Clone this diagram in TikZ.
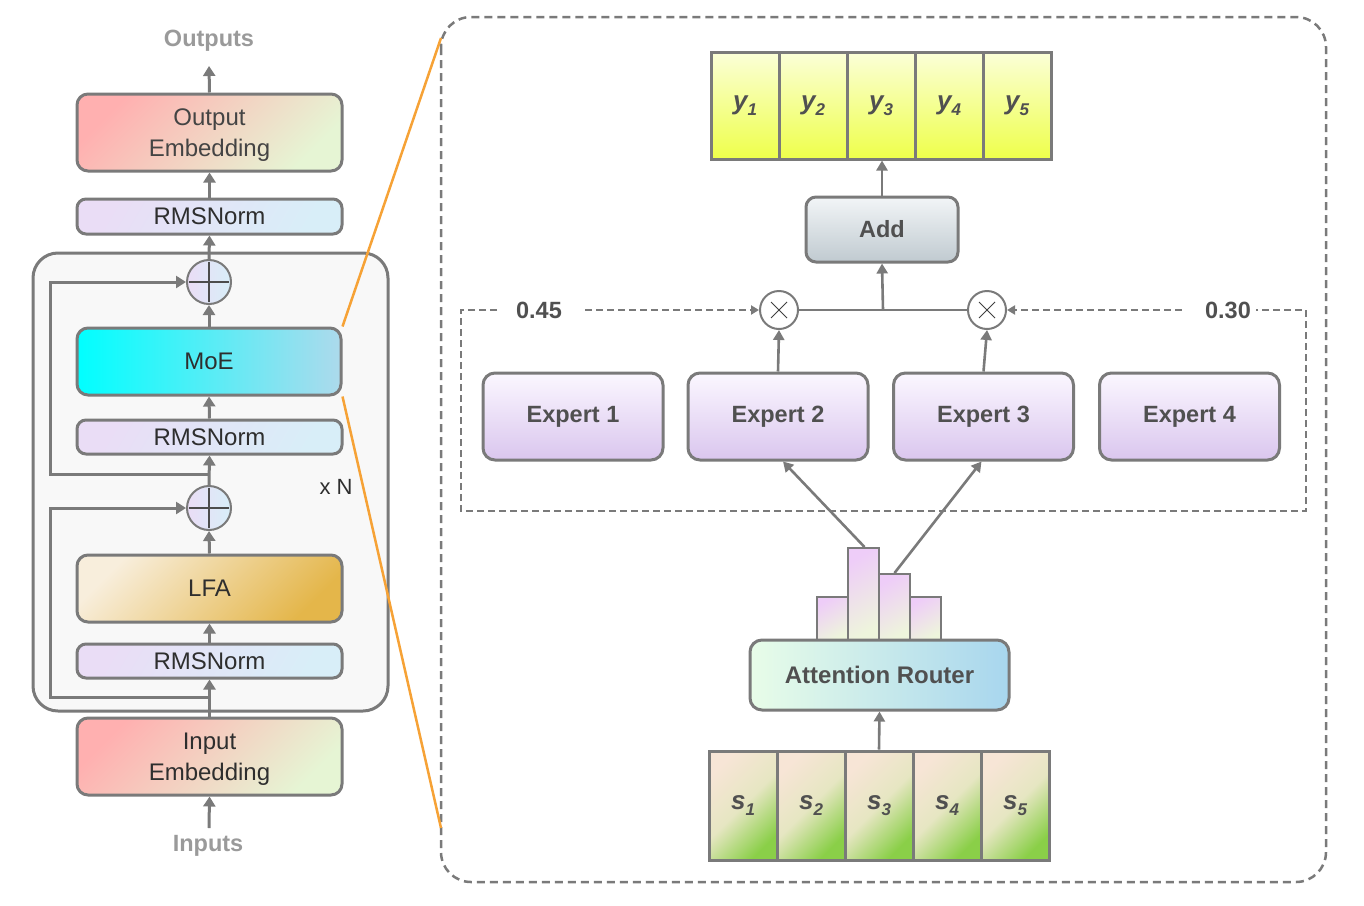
\documentclass[tikz,border=0pt]{standalone}
\usepackage{fontspec}
\setmainfont{Liberation Sans}
\usetikzlibrary{arrows.meta,calc}
\definecolor{edge}{HTML}{7A7A7A}
\definecolor{txt}{HTML}{2E2E2E}
\definecolor{etxt}{HTML}{444444}
\definecolor{btxt}{HTML}{505050}
\definecolor{ltxt}{HTML}{9A9A9A}
\definecolor{embA}{HTML}{FFB0B0}
\definecolor{embB}{HTML}{E6F5D4}
\definecolor{rmsA}{HTML}{EADDF6}
\definecolor{rmsB}{HTML}{D8EEF8}
\definecolor{moeA}{HTML}{00FFFF}
\definecolor{moeB}{HTML}{ADDAEC}
\definecolor{lfaA}{HTML}{F8EEDC}
\definecolor{lfaB}{HTML}{E4B64A}
\definecolor{contfill}{HTML}{F8F8F8}
\definecolor{orng}{HTML}{F6A236}
\definecolor{ylA}{HTML}{FBFFD8}
\definecolor{ylB}{HTML}{EEFF4A}
\definecolor{addA}{HTML}{F2F5F7}
\definecolor{addB}{HTML}{C0CAD0}
\definecolor{expA}{HTML}{FBF7FF}
\definecolor{expB}{HTML}{DAC6EE}
\definecolor{barA}{HTML}{EECDF8}
\definecolor{barB}{HTML}{EEF5DC}
\definecolor{rtA}{HTML}{E8FDE8}
\definecolor{rtB}{HTML}{A8D6EE}
\definecolor{sA}{HTML}{F7E5D6}
\definecolor{sM}{HTML}{E6E6C2}
\definecolor{sB}{HTML}{8ACF48}
\tikzset{
  box/.style={draw=edge, line width=3pt, rounded corners=11pt, inner sep=0pt, align=center, text=txt, font=\fontsize{24}{31}\selectfont},
  arr/.style={draw=edge, line width=3pt, -{Triangle[width=12pt,length=10pt]}},
  rarr/.style={draw=edge, line width=2.6pt, -{Triangle[width=11pt,length=10pt]}},
  darr/.style={draw=edge, line width=2pt, dash pattern=on 7pt off 4pt, -{Triangle[width=9pt,length=8pt]}},
  plusc/.style={circle, draw=edge, line width=2pt, minimum size=44pt, inner sep=0pt, left color=rmsA, right color=rmsB},
  mulc/.style={circle, draw=edge, line width=2pt, minimum size=38pt, inner sep=0pt, fill=white},
  ycell/.style={draw=edge, line width=3pt, minimum width=68pt, minimum height=107pt, inner sep=0pt, top color=ylA, bottom color=ylB, text=btxt, font=\fontsize{26}{26}\selectfont\bfseries\itshape},
  scell/.style={draw=edge, line width=3pt, minimum width=68pt, minimum height=109pt, inner sep=0pt, top color=sA, bottom color=sB, middle color=sM, shading angle=45, text=btxt, font=\fontsize{26}{26}\selectfont\bfseries\itshape},
  expert/.style={draw=edge, line width=3pt, rounded corners=12pt, minimum width=180pt, minimum height=87pt, inner sep=0pt, top color=expA, bottom color=expB, text=btxt, font=\fontsize{23.5}{23.5}\selectfont\bfseries},
  bar/.style={draw=edge, line width=2pt, minimum width=31pt, inner sep=0pt, top color=barA, bottom color=barB, shading angle=30},
  wlab/.style={text=btxt, font=\fontsize{23.5}{23.5}\selectfont\bfseries},
}
\newcommand{\sub}[1]{\raisebox{-0.22em}{\fontsize{17}{17}\selectfont #1}}
\begin{document}
\begin{tikzpicture}[x=1pt,y=-1pt]
\useasboundingbox (0,0) rectangle (1364,905);
% ---------- left column ----------
\draw[draw=edge, line width=3pt, fill=contfill, rounded corners=25pt] (33,253) rectangle (388,711);
\node[text=ltxt, font=\fontsize{23.5}{23.5}\selectfont\bfseries] (outs) at (209,41) {Outputs};
\node[text=ltxt, font=\fontsize{23.5}{23.5}\selectfont\bfseries] (ins) at (208,846) {Inputs};
\coordinate (outtip) at (209,66);
\coordinate (intail) at (209,828);
\node[box, text=etxt, minimum width=265pt, minimum height=77pt, top color=embA, bottom color=embB, shading angle=45] (oe) at (209.5,132.5) {\rule{0pt}{21pt}Output\\Embedding};
\node[box, minimum width=265pt, minimum height=35pt, rounded corners=9pt, top color=rmsA, bottom color=rmsB, shading angle=60] (rms1) at (209.5,216.5) {RMSNorm};
\node[plusc] (p1) at (209,282) {};
\node[box, minimum width=264pt, minimum height=67pt, left color=moeA, right color=moeB] (moe) at (209,361.5) {MoE};
\node[box, minimum width=265pt, minimum height=34pt, rounded corners=9pt, top color=rmsA, bottom color=rmsB, shading angle=60] (rms2) at (209.5,437) {RMSNorm};
\node[plusc] (p2) at (209,508) {};
\node[box, minimum width=265pt, minimum height=67pt, top color=lfaA, bottom color=lfaB, shading angle=45] (lfa) at (209.5,588.5) {LFA};
\node[box, minimum width=265pt, minimum height=34pt, rounded corners=9pt, top color=rmsA, bottom color=rmsB, shading angle=60] (rms3) at (209.5,661) {RMSNorm};
\node[box, minimum width=265pt, minimum height=77pt, top color=embA, bottom color=embB, shading angle=45] (ie) at (209.5,756.5) {\rule{0pt}{21pt}Input\\Embedding};
\node[text=txt, font=\fontsize{22}{22}\selectfont] (xn) at (336,487) {x N};
\foreach \p in {p1,p2}{
  \draw[draw=black!70, line width=1.1pt] (\p.center) +(-20,0) -- +(20,0);
  \draw[draw=black!70, line width=1.1pt] (\p.center) +(0,-20) -- +(0,20);
}
\draw[arr] (oe.north) -- (outtip);
\draw[arr] (rms1.north) -- (oe.south);
\draw[arr] (p1.north) -- (rms1.south);
\draw[arr] (moe.north) -- (p1.south);
\draw[arr] (rms2.north) -- (moe.south);
\draw[arr] (p2.north) -- (rms2.south);
\draw[arr] (lfa.north) -- (p2.south);
\draw[arr] (rms3.north) -- (lfa.south);
\draw[arr] (ie.north) -- (rms3.south);
\draw[arr] (intail) -- (ie.south);
\coordinate (b1) at (209,474);
\coordinate (b2) at (209,697);
\draw[arr] (b1) -- (50,474) -- (50,282) -- (p1.west);
\draw[arr] (b2) -- (50,697) -- (50,508) -- (p2.west);
% ---------- right container ----------
\draw[draw=edge, line width=2.5pt, dash pattern=on 8pt off 5pt, rounded corners=30pt] (441,17) rectangle (1326,882);
\coordinate (zt) at (441,38);
\coordinate (zb) at (441,828);
\draw[orng, line width=2.5pt] (moe.north east) -- (zt);
\draw[orng, line width=2.5pt] (moe.south east) -- (zb);
% outputs y
\node[ycell] (y1) at (745,105.5) {y\sub{1}};
\node[ycell] (y2) at (813,105.5) {y\sub{2}};
\node[ycell] (y3) at (881,105.5) {y\sub{3}};
\node[ycell] (y4) at (949,105.5) {y\sub{4}};
\node[ycell] (y5) at (1017,105.5) {y\sub{5}};
\node[draw=edge, line width=3pt, rounded corners=10pt, minimum width=152pt, minimum height=65pt, inner sep=0pt, top color=addA, bottom color=addB, text=btxt, font=\fontsize{23.5}{23.5}\selectfont\bfseries] (add) at (882,229.5) {Add};
\draw[rarr] (add.north) -- (add.north |- y3.south);
% experts dashed box
\draw[draw=edge, line width=2pt, dash pattern=on 7pt off 4pt] (497,310) -- (461,310) -- (461,511) -- (1306,511) -- (1306,310) -- (1256,310);
\node[wlab] (w1) at (539,310) {0.45};
\node[wlab] (w2) at (1228,310) {0.30};
\node[mulc] (m1) at (779,310) {};
\node[mulc] (m2) at (987,310) {};
\foreach \p in {m1,m2}{
  \draw[draw=black!75, line width=1pt] (\p.center) +(-8,-8) -- +(8,8);
  \draw[draw=black!75, line width=1pt] (\p.center) +(-8,8) -- +(8,-8);
}
\coordinate (j) at (883,310);
\draw[draw=edge, line width=2.6pt] (m1.east) -- (m2.west);
\draw[rarr] (j) -- (add.south);
\draw[darr] ([xshift=20pt]w1.east) -- (m1.west);
\draw[darr] ([xshift=-20pt]w2.west) -- (m2.east);
\node[expert] (e1) at (573,416.5) {Expert 1};
\node[expert] (e2) at (778,416.5) {Expert 2};
\node[expert] (e3) at (983.5,416.5) {Expert 3};
\node[expert] (e4) at (1189.5,416.5) {Expert 4};
\draw[rarr] (e2.north) -- (m1.south);
\draw[rarr] (e3.north) -- (m2.south);
% router & bars
\node[bar, minimum height=43pt] (bar1) at (832.5,618.5) {};
\node[bar, minimum height=92pt] (bar2) at (863.5,594) {};
\node[bar, minimum height=66pt] (bar3) at (894.5,607) {};
\node[bar, minimum height=43pt] (bar4) at (925.5,618.5) {};
\node[draw=edge, line width=3pt, rounded corners=12pt, minimum width=259pt, minimum height=70pt, inner sep=0pt, left color=rtA, right color=rtB, text=btxt, font=\fontsize{24}{24}\selectfont\bfseries] (router) at (879.5,675) {Attention Router};
\draw[rarr] ([xshift=1pt]bar2.north) -- ([xshift=5pt]e2.south);
\draw[rarr] (bar3.north) -- ([xshift=-2pt]e3.south);
% inputs s
\node[scell] (s1) at (743,805.5) {s\sub{1}};
\node[scell] (s2) at (811,805.5) {s\sub{2}};
\node[scell] (s3) at (879,805.5) {s\sub{3}};
\node[scell] (s4) at (947,805.5) {s\sub{4}};
\node[scell] (s5) at (1015,805.5) {s\sub{5}};
\draw[rarr] (s3.north) -- (router.south);
\end{tikzpicture}
\end{document}
